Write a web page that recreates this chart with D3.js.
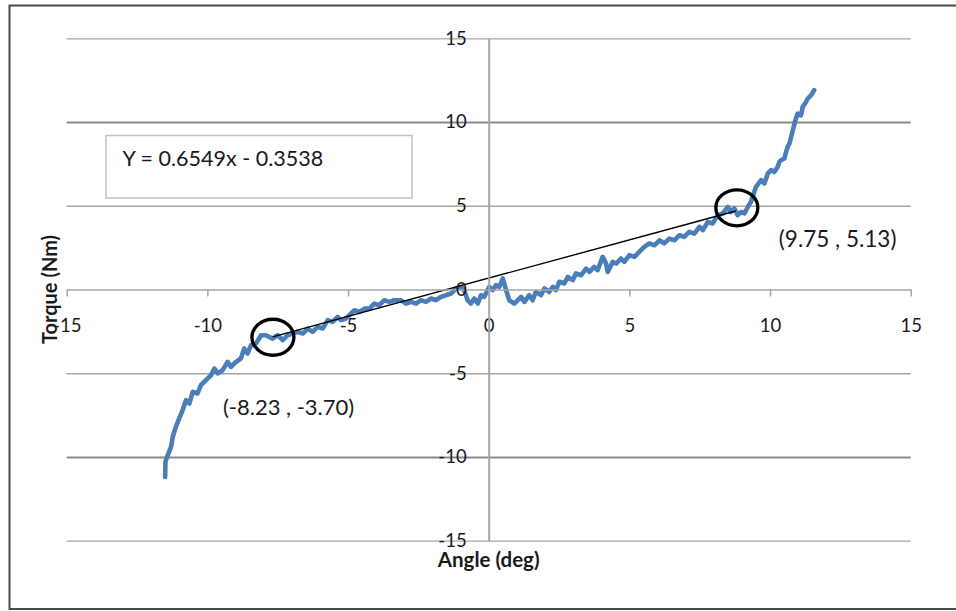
<!DOCTYPE html>
<html>
<head>
<meta charset="utf-8">
<script src="https://cdnjs.cloudflare.com/ajax/libs/d3/7.8.5/d3.min.js"></script>
<style>
  html, body { margin: 0; padding: 0; background: #fff; }
  svg { display: block; }
  text { font-family: Lato, "Open Sans", sans-serif; fill: #1a1a1a; }
</style>
</head>
<body>
<svg id="chart" width="956" height="611"></svg>
<script>
// Measured torque vs. angle sweep
const angle = [
  -11.50, -11.49, -11.41, -11.29, -11.23, -11.12, -11.00, -10.88, -10.76, -10.64,
  -10.52, -10.35, -10.23, -10.05, -9.87, -9.75, -9.63, -9.46, -9.28, -9.16,
  -8.98, -8.81, -8.69, -8.57, -8.45, -8.27, -8.09, -7.92, -7.68, -7.50,
  -7.32, -7.15, -6.97, -6.79, -6.61, -6.43, -6.26, -6.08, -5.90, -5.72,
  -5.55, -5.37, -5.25, -5.07, -4.78, -4.60, -4.42, -4.24, -4.07, -3.89,
  -3.71, -3.53, -3.36, -3.12, -2.94, -2.76, -2.58, -2.41, -2.23, -2.05,
  -1.87, -1.70, -1.52, -1.34, -1.16, -0.98, -0.87, -0.75, -0.63, -0.51,
  -0.39, -0.27, -0.16, 0.02, 0.14, 0.26, 0.38, 0.50, 0.62, 0.73,
  0.91, 1.15, 1.27, 1.44, 1.56, 1.68, 1.86, 1.98, 2.15, 2.28,
  2.39, 2.51, 2.69, 2.81, 2.99, 3.10, 3.28, 3.46, 3.58, 3.75,
  3.87, 4.05, 4.17, 4.23, 4.41, 4.53, 4.70, 4.82, 5.00, 5.18,
  5.35, 5.53, 5.71, 5.89, 6.07, 6.24, 6.42, 6.60, 6.78, 6.95,
  7.13, 7.31, 7.49, 7.61, 7.79, 7.96, 8.14, 8.32, 8.50, 8.61,
  8.73, 8.85, 8.97, 9.09, 9.21, 9.32, 9.50, 9.68, 9.80, 9.92,
  10.04, 10.15, 10.27, 10.33, 10.39, 10.51, 10.57, 10.63, 10.69, 10.81,
  10.90, 10.98, 11.10, 11.16, 11.28, 11.34, 11.46, 11.57
];
const torque = [
  -11.19, -10.29, -9.89, -9.40, -8.80, -8.20, -7.70, -7.21, -6.61, -6.81,
  -6.11, -6.21, -5.71, -5.41, -5.12, -4.72, -5.01, -4.82, -4.32, -4.62,
  -4.32, -4.12, -3.52, -3.82, -3.33, -3.22, -2.73, -2.73, -2.93, -2.73,
  -3.03, -2.73, -2.63, -2.53, -2.63, -2.33, -2.53, -2.23, -2.33, -1.83,
  -1.93, -1.64, -1.83, -1.73, -1.24, -1.34, -1.14, -1.14, -0.84, -0.94,
  -0.64, -0.74, -0.64, -0.64, -0.84, -0.74, -0.84, -0.64, -0.74, -0.54,
  -0.64, -0.44, -0.34, -0.24, 0.06, 0.16, -0.04, -0.64, -0.84, -0.54,
  -0.84, -0.34, -0.44, 0.16, -0.04, 0.26, 0.16, 0.66, -0.04, -0.64,
  -0.84, -0.44, -0.74, -0.34, -0.64, -0.14, -0.34, 0.06, -0.14, 0.16,
  -0.04, 0.46, 0.36, 0.75, 0.56, 0.96, 0.85, 1.25, 1.05, 1.35,
  1.15, 1.95, 1.55, 1.05, 1.65, 1.55, 1.85, 1.65, 2.05, 1.95,
  2.25, 2.54, 2.75, 2.64, 2.94, 2.75, 3.04, 2.94, 3.24, 3.14,
  3.44, 3.34, 3.74, 3.54, 4.04, 3.94, 4.44, 4.54, 4.93, 4.63,
  4.84, 4.44, 4.63, 4.54, 4.93, 5.23, 6.13, 6.53, 6.33, 6.93,
  7.13, 7.02, 7.32, 7.62, 7.72, 7.82, 8.22, 8.52, 8.72, 9.51,
  10.10, 10.50, 10.40, 10.90, 11.20, 11.40, 11.60, 11.90
];

// Axis ticks
const xTicks = [-15, -10, -5, 0, 5, 10, 15];
const yTicks = [-15, -10, -5, 0, 5, 10, 15];

// Secant line between the two circled transition points
const secantX = [-7.68, 8.78];
const secantY = [-2.83, 4.69];

// Circled transition points and their labels
const markX = [-7.67, 8.82];
const markY = [-2.85, 4.88];
const markText = ["(-8.23 , -3.70)", "(9.75 , 5.13)"];

const equationText = "Y = 0.6549x - 0.3538";
const xTitle = "Angle (deg)";
const yTitle = "Torque (Nm)";

// ---- layout ----
const svg = d3.select("#chart");
const W = 956, H = 611;
const plot = { left: 66.7, right: 910.7, top: 38.3, bottom: 540.7 };

const x = d3.scaleLinear().domain([-15, 15]).range([plot.left, plot.right]);
const y = d3.scaleLinear().domain([-15, 15]).range([plot.bottom, plot.top]);

// plain hyphen-minus for negative tick values
const fmt = d => String(d);

svg.append("rect").attr("width", W).attr("height", H).attr("fill", "#fff");

// outer frame
svg.append("path")
  .attr("d", `M960,5.5 H9.5 V609 H960`)
  .attr("fill", "none").attr("stroke", "#4a4a4a").attr("stroke-width", 2);

// horizontal gridlines
const grid = svg.append("g").attr("transform", `translate(${plot.left},0)`)
  .call(d3.axisLeft(y).tickValues(yTicks.filter(v => v !== 0))
    .tickSize(-(plot.right - plot.left)).tickFormat(""));
grid.select(".domain").remove();
grid.selectAll(".tick line")
  .attr("stroke", d => Math.abs(d) === 10 ? "#8a8a8a" : "#a6a6a6")
  .attr("stroke-width", d => Math.abs(d) === 10 ? 2 : 1.3);

// vertical axis line at x = 0
const yAxis = svg.append("g").attr("transform", `translate(${x(0)},0)`)
  .call(d3.axisLeft(y).tickValues(yTicks).tickFormat(fmt)
    .tickSize(0).tickSizeOuter(0).tickPadding(22));
yAxis.select(".domain").attr("stroke", "#a6a6a6").attr("stroke-width", 2);

// horizontal axis line at y = 0 with downward ticks
const xAxis = svg.append("g").attr("transform", `translate(0,${y(0)})`)
  .call(d3.axisBottom(x).tickValues(xTicks).tickFormat(fmt)
    .tickSize(7).tickSizeOuter(0).tickPadding(22));
xAxis.select(".domain").attr("stroke", "#a6a6a6").attr("stroke-width", 1.5);
xAxis.selectAll(".tick line").attr("stroke", "#a6a6a6").attr("stroke-width", 1.5);

// measured curve
const pts = angle.map((a, i) => [a, torque[i]]);
svg.append("path")
  .datum(pts)
  .attr("fill", "none")
  .attr("stroke", "#4a7ebb")
  .attr("stroke-width", 4.6)
  .attr("stroke-linejoin", "round")
  .attr("stroke-linecap", "round")
  .attr("d", d3.line().x(d => x(d[0])).y(d => y(d[1])));

// secant line
svg.append("path")
  .datum(secantX.map((v, i) => [v, secantY[i]]))
  .attr("fill", "none").attr("stroke", "#000").attr("stroke-width", 1.4)
  .attr("d", d3.line().x(d => x(d[0])).y(d => y(d[1])));

// circles around the transition points
svg.selectAll("ellipse.mark")
  .data(markX.map((v, i) => [v, markY[i]]))
  .join("ellipse")
  .attr("class", "mark")
  .attr("cx", d => x(d[0])).attr("cy", d => y(d[1]))
  .attr("rx", 21).attr("ry", 18)
  .attr("fill", "none").attr("stroke", "#000").attr("stroke-width", 3.3);

// point labels
const labelOffset = [[-50, 78], [42, 39]];
const labelSize = ["22px", "22.5px"];
svg.selectAll("text.mark-label")
  .data(markText)
  .join("text")
  .attr("class", "mark-label")
  .attr("x", (d, i) => x(markX[i]) + labelOffset[i][0])
  .attr("y", (d, i) => y(markY[i]) + labelOffset[i][1])
  .style("font-size", (d, i) => labelSize[i])
  .text(d => d);

// equation box
svg.append("rect")
  .attr("x", 106).attr("y", 135.5).attr("width", 306).attr("height", 62.5)
  .attr("fill", "#fff").attr("stroke", "#c4c4c4").attr("stroke-width", 1.5);
svg.append("text")
  .attr("x", 122.5).attr("y", 166)
  .style("font-size", "21.5px")
  .text(equationText);

// tick label styling (drawn above the curve)
[xAxis, yAxis].forEach(g => {
  g.selectAll(".tick text").style("font-size", "18.5px").attr("fill", "#1a1a1a")
    .style("font-family", "Lato, 'Open Sans', sans-serif");
  g.raise();
});

// axis titles
svg.append("text")
  .attr("x", x(0)).attr("y", 567)
  .attr("text-anchor", "middle")
  .style("font-size", "20.5px").style("font-weight", "bold")
  .text(xTitle);
svg.append("text")
  .attr("transform", `translate(57,${y(0)}) rotate(-90)`)
  .attr("text-anchor", "middle")
  .style("font-size", "20px").style("font-weight", "bold")
  .text(yTitle);
</script>
</body>
</html>
